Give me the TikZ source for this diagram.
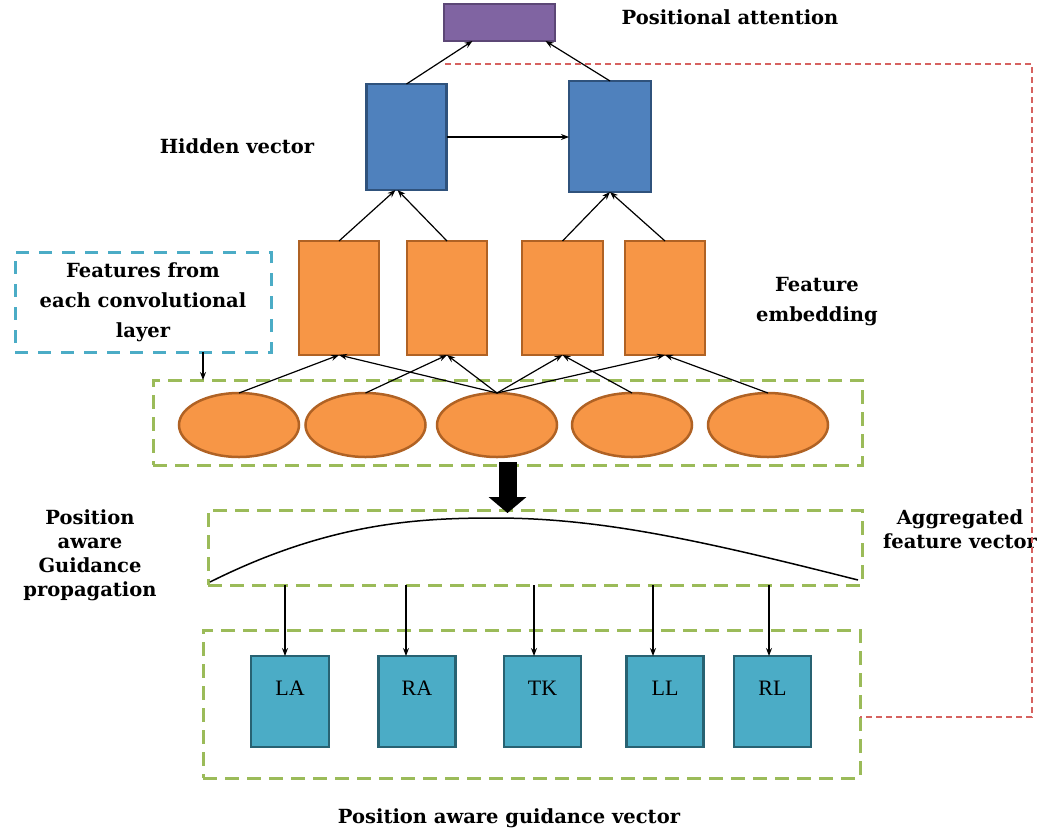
\documentclass[tikz,border=0pt]{standalone}
\usepackage{fontspec}
\setmainfont{Liberation Serif}
\newfontfamily\labelfont{DejaVu Serif}
\usepackage{xcolor}
\usepackage{tikz}
\usetikzlibrary{arrows.meta, positioning, shapes.geometric}
\definecolor{attviolet}{RGB}{128, 100, 162}
\definecolor{attvioletdark}{RGB}{92, 71, 118}
\definecolor{hidblue}{RGB}{79, 129, 189}
\definecolor{hidbluedark}{RGB}{47, 82, 124}
\definecolor{featorange}{RGB}{247, 150, 70}
\definecolor{featorangedark}{RGB}{176, 98, 36}
\definecolor{partteal}{RGB}{75, 172, 198}
\definecolor{parttealdark}{RGB}{40, 98, 114}
\definecolor{groupgreen}{RGB}{155, 187, 89}
\definecolor{convcyan}{RGB}{75, 172, 198}
\definecolor{backred}{RGB}{214, 98, 96}

\begin{document}
\begin{tikzpicture}[
  x=1pt, y=-1pt,
  every node/.style={inner sep=0pt, outer sep=0pt},
  title/.style={font=\labelfont\bfseries\fontsize{19.5}{30}\selectfont, align=center},
  side/.style={font=\labelfont\bfseries\fontsize{19.5}{24}\selectfont, align=center},
  attbox/.style={draw=attvioletdark, fill=attviolet, line width=2.5pt, minimum width=111pt, minimum height=37pt},
  hidbox/.style={draw=hidbluedark, fill=hidblue, line width=2.5pt, minimum width=80pt},
  featbox/.style={draw=featorangedark, fill=featorange, line width=2.5pt, minimum width=80pt, minimum height=114pt},
  featell/.style={ellipse, draw=featorangedark, fill=featorange, line width=2.5pt, minimum width=120pt, minimum height=64pt},
  partbox/.style={draw=parttealdark, fill=partteal, line width=2.5pt, minimum width=77pt, minimum height=91pt, font=\fontsize{22}{24}\selectfont, text depth=26pt},
  group/.style={draw=groupgreen, line width=3pt, dash pattern=on 14pt off 8pt},
  convgroup/.style={draw=convcyan, line width=3pt, dash pattern=on 13pt off 10pt},
  arrow/.style={-{Stealth[length=8pt, width=6pt]}, line width=1.2pt},
  bigarrow/.style={-{Triangle[length=16pt, width=37pt]}, line width=18pt, shorten <=-3pt, shorten >=-3pt},
  feedback/.style={draw=backred, line width=1.3pt, dash pattern=on 6pt off 4pt}
]
  \useasboundingbox (0,0) rectangle (1041,836);

  % Gruppi tratteggiati
  \node[group, minimum width=709pt, minimum height=85pt] (grp1) at (507.5, 422.5) {};
  \node[group, minimum width=654pt, minimum height=75pt] (grp2) at (535, 547.5) {};
  \node[group, minimum width=657pt, minimum height=148pt] (grp3) at (531.5, 704) {};
  \node[convgroup, minimum width=256pt, minimum height=100pt, title] (conv) at (143, 302) {Features from\\each convolutional\\layer};

  % Attenzione e vettori nascosti
  \node[attbox] (att) at (499.5, 22.5) {};
  \node[title] (attlbl) at (730, 17) {Positional attention};
  \node[hidbox, minimum height=106pt] (h1) at (406.5, 137) {};
  \node[hidbox, minimum width=82pt, minimum height=111pt] (h2) at (610, 136.5) {};
  \node[title] (hidlbl) at (237, 146) {Hidden vector};

  % Feature embedding (4 colonne)
  \node[featbox] (f1) at (339, 298) {};
  \node[featbox] (f2) at (447, 298) {};
  \node[featbox, minimum width=81pt] (f3) at (562.5, 298) {};
  \node[featbox] (f4) at (665, 298) {};
  \node[title] (emblbl) at (817, 302) {Feature\\embedding};

  % Feature dei livelli convoluzionali
  \node[featell] (e1) at (239, 425) {};
  \node[featell] (e2) at (365.5, 425) {};
  \node[featell] (e3) at (497, 425) {};
  \node[featell] (e4) at (632, 425) {};
  \node[featell] (e5) at (768, 425) {};

  % Vettore di guida
  \node[partbox, minimum width=78pt] (LA) at (290, 701.5) {LA};
  \node[partbox] (RA) at (417, 701.5) {RA};
  \node[partbox] (TK) at (542.5, 701.5) {TK};
  \node[partbox] (LL) at (665, 701.5) {LL};
  \node[partbox] (RL) at (772.5, 701.5) {RL};

  % Etichette laterali
  \node[side] (proplbl) at (90, 555) {Position\\aware\\Guidance\\propagation};
  \node[side] (agglbl) at (960, 529) {Aggregated\\feature vector};
  \node[side] (veclbl) at (509, 818) {Position aware guidance vector};

  % Curva aggregata
  \coordinate (cl) at (210, 582);
  \coordinate (ctop) at (495, 518);
  \coordinate (cr) at (858, 580);
  \draw[line width=1.5pt] (cl) .. controls (330, 522) and (420, 518) .. (ctop)
    .. controls (600, 518) and (700, 540) .. (cr);

  % Frecce
  \draw[arrow] (h1.north) -- ([xshift=-27pt]att.south);
  \draw[arrow] (h2.north) -- ([xshift=46pt]att.south);
  \draw[arrow] (h1.east) -- (h1.east -| h2.west);
  \draw[arrow] (f1.north) -- ([xshift=-11pt]h1.south);
  \draw[arrow] (f2.north) -- ([xshift=-9pt]h1.south);
  \draw[arrow] (f3.north) -- (h2.south);
  \draw[arrow] (f4.north) -- (h2.south);
  \draw[arrow] (e1.north) -- (f1.south);
  \draw[arrow] (e2.north) -- (f2.south);
  \foreach \f in {f1, f2, f3, f4}
    \draw[arrow] (e3.north) -- (\f.south);
  \draw[arrow] (e4.north) -- (f3.south);
  \draw[arrow] (e5.north) -- (f4.south);
  \draw[arrow] ([xshift=60pt]conv.south) -- ([xshift=60pt]conv.south |- grp1.north);
  \draw[bigarrow] (grp1.south) -- (grp1.south |- grp2.north);
  \foreach \b/\dx in {LA/-5, RA/-11, TK/-8.5, LL/-12, RL/-3.5}
    \draw[arrow] ([xshift=\dx pt]\b.north |- grp2.south) -- ([xshift=\dx pt]\b.north);

  % Ritorno verso l'attenzione
  \coordinate (rs) at (445, 64);
  \draw[feedback] (rs) -- (1032, 64) |- ([yshift=-13pt]grp3.east);

\end{tikzpicture}
\end{document}
